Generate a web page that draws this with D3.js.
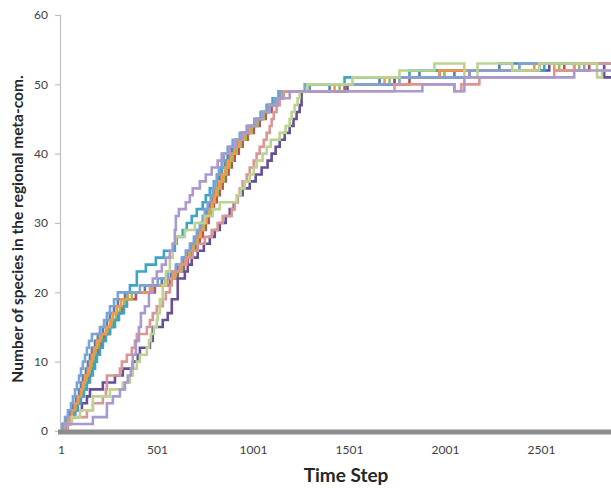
<!DOCTYPE html>
<html><head><meta charset="utf-8">
<script src="https://cdn.jsdelivr.net/npm/d3@7"></script>
<style>body{margin:0;background:#fff}svg{display:block}</style>
</head><body>
<svg id="c" width="611" height="488"></svg>
<script>
// Tick labels
const xTicks = [1, 501, 1001, 1501, 2001, 2501];
const yTicks = [0, 10, 20, 30, 40, 50, 60];
const lastStep = 3001;

// Series: [time step, species count] change points (step functions)
const seriesBlue = [[1,0],[11,1],[32,2],[48,3],[63,4],[79,5],[95,6],[105,7],[115,8],[131,9],[141,10],[152,11],[162,12],[178,13],[193,14],[219,15],[240,16],[256,17],[277,18],[297,19],[334,20],[438,21],[526,22],[573,23],[609,24],[635,25],[656,26],[677,27],[698,28],[713,29],[729,30],[745,31],[760,32],[776,33],[791,34],[802,35],[817,36],[828,37],[838,38],[854,39],[869,40],[890,41],[911,42],[942,43],[973,44],[1010,45],[1046,46],[1077,47],[1109,48],[1140,49],[1400,50],[1660,51],[1868,52],[2050,51],[2128,52],[2284,53]];
const seriesRed = [[1,0],[27,1],[48,2],[69,3],[84,4],[100,5],[115,6],[131,7],[141,8],[157,9],[167,10],[178,11],[193,12],[209,13],[225,14],[256,15],[277,16],[297,17],[318,18],[344,19],[391,20],[490,21],[568,22],[609,23],[641,24],[661,25],[682,26],[703,27],[724,28],[739,29],[755,30],[770,31],[786,32],[797,33],[812,34],[828,35],[843,36],[859,37],[874,38],[890,39],[906,40],[927,41],[947,42],[973,43],[1005,44],[1036,45],[1067,46],[1098,47],[1129,48],[1155,49],[1478,50],[1816,51],[2128,52],[2492,53],[2622,52],[2752,53]];
const seriesGreen = [[1,0],[22,1],[43,2],[63,3],[79,4],[95,5],[110,6],[126,7],[136,8],[152,9],[162,10],[173,11],[183,12],[199,13],[214,14],[245,15],[266,16],[287,17],[308,18],[329,19],[370,20],[474,21],[552,22],[599,23],[630,24],[651,25],[672,26],[693,27],[713,28],[729,29],[745,30],[760,31],[776,32],[791,33],[802,34],[817,35],[833,36],[849,37],[864,38],[880,39],[895,40],[916,41],[937,42],[963,43],[994,44],[1025,45],[1057,46],[1088,47],[1119,48],[1150,49],[1452,50],[1712,51],[1998,52],[2388,53],[2596,52],[2700,53]];
const seriesDarkPurple = [[1,0],[11,1],[37,2],[74,3],[110,4],[136,5],[152,6],[219,7],[282,8],[323,9],[375,10],[401,11],[412,12],[464,13],[479,15],[531,16],[557,17],[578,19],[609,22],[646,23],[661,24],[682,25],[713,26],[745,27],[776,28],[802,29],[828,30],[859,31],[880,32],[901,33],[921,34],[947,35],[984,36],[1015,37],[1046,38],[1077,39],[1098,40],[1119,41],[1140,42],[1166,43],[1192,44],[1212,45],[1228,46],[1244,47],[1254,49],[1493,50],[1738,51],[1972,52],[2544,53],[2830,51]];
const seriesTeal = [[1,0],[32,1],[53,2],[74,3],[89,4],[105,5],[121,6],[136,7],[152,8],[167,9],[178,10],[188,11],[204,12],[219,13],[235,14],[256,15],[282,16],[303,17],[329,18],[344,20],[360,21],[396,23],[443,24],[495,25],[537,26],[594,27],[604,28],[635,29],[656,30],[682,31],[708,32],[739,33],[755,34],[776,35],[797,36],[817,37],[838,38],[859,39],[880,40],[901,41],[921,42],[947,43],[978,44],[1010,45],[1041,46],[1072,47],[1103,48],[1134,49],[1296,50],[1478,51],[1816,52],[2518,53]];
const seriesOrange = [[1,0],[17,1],[37,2],[58,3],[74,4],[89,5],[105,6],[115,7],[126,8],[141,9],[152,10],[162,11],[173,12],[188,13],[204,14],[235,15],[256,16],[271,17],[292,18],[313,19],[349,20],[464,21],[542,22],[589,23],[620,24],[646,25],[667,26],[687,27],[708,28],[724,29],[739,30],[755,31],[770,32],[786,33],[797,34],[807,35],[823,36],[838,37],[854,38],[869,39],[885,40],[906,41],[927,42],[953,43],[984,44],[1015,45],[1051,46],[1083,47],[1114,48],[1145,49],[1426,50],[1686,51],[1972,52],[2466,53],[2570,52],[2674,53]];
const seriesLightBlue = [[1,0],[11,1],[22,2],[37,3],[53,4],[63,5],[74,6],[84,7],[95,8],[105,9],[115,10],[126,11],[136,12],[147,13],[162,14],[204,15],[225,16],[240,17],[256,18],[277,19],[297,20],[412,21],[505,22],[557,23],[599,24],[630,25],[651,26],[672,27],[693,28],[708,29],[724,30],[739,31],[750,32],[765,33],[781,34],[791,35],[802,36],[812,37],[823,38],[838,39],[849,40],[869,41],[895,42],[932,43],[968,44],[1010,45],[1046,46],[1077,47],[1114,48],[1140,49],[1270,50],[1764,51],[2128,52],[2388,53],[2674,52],[2726,53]];
const seriesPink = [[1,0],[37,1],[48,2],[136,3],[167,4],[219,5],[235,6],[240,8],[308,9],[318,10],[344,11],[370,12],[386,13],[396,14],[448,15],[464,16],[479,17],[500,18],[531,19],[547,20],[568,21],[578,22],[583,23],[620,24],[656,25],[687,26],[713,27],[750,28],[786,29],[817,30],[843,31],[890,32],[906,33],[921,34],[932,35],[947,36],[968,37],[984,38],[1005,39],[1020,40],[1036,41],[1057,42],[1072,43],[1088,44],[1098,45],[1109,46],[1124,47],[1140,48],[1161,49],[1738,50],[2050,49],[2086,50],[2180,51],[2570,52],[2674,53]];
const seriesLightGreen = [[1,0],[27,1],[58,2],[100,3],[167,5],[256,6],[323,7],[360,8],[375,9],[396,10],[412,11],[448,12],[459,13],[469,14],[485,15],[500,16],[505,17],[516,19],[531,21],[547,23],[568,25],[583,27],[599,28],[646,29],[698,30],[750,31],[791,32],[828,33],[916,34],[937,35],[958,36],[984,37],[1005,38],[1020,39],[1051,40],[1072,41],[1093,42],[1140,43],[1171,44],[1192,45],[1202,46],[1218,47],[1233,48],[1244,49],[1285,50],[1519,51],[1764,52],[1946,53],[2102,51],[2170,53],[2351,52],[2492,53],[2793,51],[2819,52]];
const seriesLavender = [[1,0],[27,1],[167,2],[240,4],[271,5],[308,6],[334,7],[349,8],[365,9],[375,11],[391,13],[407,15],[417,17],[438,18],[459,20],[479,22],[500,23],[526,24],[547,25],[568,26],[583,27],[594,29],[599,31],[615,32],[651,33],[672,34],[687,35],[724,36],[755,37],[786,38],[817,39],[838,40],[880,41],[911,42],[942,43],[973,44],[1015,45],[1051,46],[1088,47],[1129,48],[1192,49],[1883,50],[2050,49],[2102,51],[2674,52]];

const series = [
  {data: seriesBlue, color: "#4F81BD"},
  {data: seriesRed, color: "#C0504D"},
  {data: seriesGreen, color: "#9BBB59"},
  {data: seriesDarkPurple, color: "#654F97"},
  {data: seriesTeal, color: "#3FA4C4"},
  {data: seriesOrange, color: "#F79646"},
  {data: seriesLightBlue, color: "#7DA3D5"},
  {data: seriesPink, color: "#DA9694"},
  {data: seriesLightGreen, color: "#BCD291"},
  {data: seriesLavender, color: "#AA99CC"}
];

const svg = d3.select("#c");
const x = d3.scaleLinear().domain([1, lastStep]).range([61, 637]);
const y = d3.scaleLinear().domain([0, 60]).range([431, 15]);
const font = "Lato, 'Open Sans', sans-serif";

// y axis
const yAxis = svg.append("g").attr("transform", "translate(60,0)")
  .call(d3.axisLeft(y).tickValues(yTicks).tickSize(5).tickPadding(7).tickFormat(d3.format("d")));
yAxis.select(".domain").attr("stroke", "#bfbfbf").attr("stroke-width", 1.2);
yAxis.selectAll(".tick line").attr("stroke", "#bfbfbf").attr("stroke-width", 1.2);
yAxis.selectAll("text").attr("font-family", font).attr("font-size", 12).attr("fill", "#404040");

// lines
const line = d3.line().x(d => x(d[0])).y(d => y(d[1])).curve(d3.curveStepAfter);
svg.append("clipPath").attr("id", "pc").append("rect")
  .attr("x", 56).attr("y", 0).attr("width", 560).attr("height", 440);
const g = svg.append("g").attr("clip-path", "url(#pc)");
series.forEach(s => {
  const pts = s.data.concat([[lastStep, s.data[s.data.length - 1][1]]]);
  g.append("path").datum(pts).attr("d", line)
    .attr("fill", "none").attr("stroke", s.color)
    .attr("stroke-width", 2.6).attr("stroke-linejoin", "miter");
});

// x axis (thick gray band)
const xAxis = svg.append("g").attr("transform", "translate(0,432)")
  .call(d3.axisBottom(x).tickValues(xTicks).tickSize(0).tickPadding(13).tickFormat(d3.format("d")));
xAxis.select(".domain").attr("stroke", "#8c8c8c").attr("stroke-width", 5)
  .attr("d", "M58,0H611");
xAxis.selectAll("text").attr("font-family", font).attr("font-size", 12).attr("fill", "#404040");

// titles
svg.append("text").attr("x", 346).attr("y", 482).attr("text-anchor", "middle")
  .attr("font-family", font).attr("font-weight", "bold").attr("font-size", 19).attr("fill", "#262626")
  .text("Time Step");
svg.append("text").attr("transform", "translate(23,229) rotate(-90)").attr("text-anchor", "middle")
  .attr("font-family", font).attr("font-weight", "bold").attr("font-size", 15.5).attr("fill", "#262626")
  .text("Number of species in the regional meta-com.");
</script>
</body></html>
